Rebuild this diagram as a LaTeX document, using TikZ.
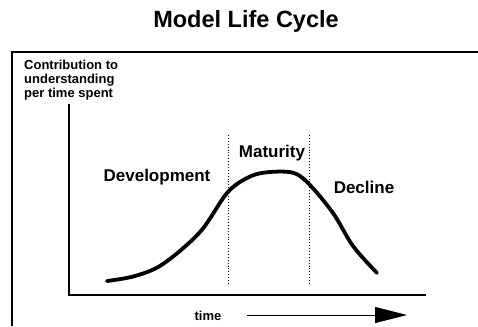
\documentclass[tikz,border=0pt]{standalone}
\usepackage{fontspec}
\setmainfont{Liberation Sans}
\usetikzlibrary{arrows.meta}
\tikzset{
  frameline/.style={line width=1.6pt, black},
  axisline/.style={line width=1.6pt, black},
  curveline/.style={line width=3.8pt, black, line cap=round, line join=round},
  divider/.style={line width=0.9pt, black, dotted},
  phase/.style={font=\bfseries\fontsize{17}{20}\selectfont, inner sep=0pt, anchor=base},
  boldlabel/.style={font=\bfseries\fontsize{13}{14}\selectfont, inner sep=0pt},
}
\begin{document}
\begin{tikzpicture}[x=1pt,y=-1pt]
\useasboundingbox (0,0) rectangle (478,326);
% title
\node[font=\bfseries\fontsize{23.5}{26}\selectfont, inner sep=0pt, anchor=base] (title) at (246,28) {Model Life Cycle};
% frame
\coordinate (fbl) at (12,326);
\coordinate (ftl) at (12,52);
\coordinate (ftr) at (478,52);
\draw[frameline] (fbl) -- (ftl) -- (ftr);
% y-axis label
\node[boldlabel, align=left, anchor=north west] (ylabel) at (24,60) {Contribution to\\understanding\\per time spent};
% axes
\coordinate (ytop) at (69,104);
\coordinate (origin) at (69,295);
\coordinate (xend) at (426,295);
\draw[axisline] (ytop) -- (origin) -- (xend);
% dividers
\coordinate (d1t) at (228,135);
\coordinate (d1b) at (228,284);
\coordinate (d2t) at (309,135);
\coordinate (d2b) at (309,284);
\draw[divider] (d1t) -- (d1b);
\draw[divider] (d2t) -- (d2b);
% curve
\draw[curveline] plot[smooth, tension=0.55] coordinates {(107,281) (135,276) (163,264) (200,232) (227,193) (247,178) (265,172.5) (292,172.5) (308,183) (333,213) (353,246) (377,273)};
% phase labels
\node[phase] (dev) at (157,181) {Development};
\node[phase] (mat) at (272,157) {Maturity};
\node[phase] (dec) at (364,193) {Decline};
% time
\node[boldlabel, anchor=base] (time) at (208,320) {time};
\coordinate (as) at (247,315);
\coordinate (ae) at (407,315);
\draw[line width=1pt, -{Triangle[length=32pt,width=16pt]}] (as) -- (ae);
\end{tikzpicture}
\end{document}
